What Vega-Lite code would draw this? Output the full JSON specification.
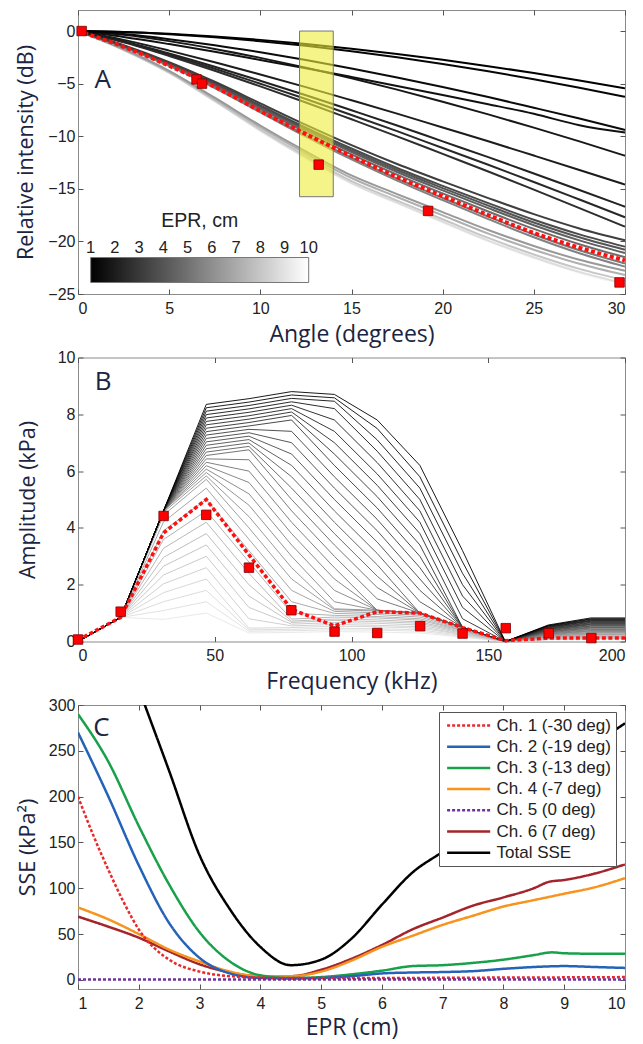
{
"$schema":"https://vega.github.io/schema/vega-lite/v6.json",
"autosize":{"type":"pad"},
"padding":{"left":15,"top":9,"right":8,"bottom":3},
"background":"white",
"spacing":63.5,
"bounds":"flush",
"datasets":{
"a":[
{"e":9.6,"x":0,"y":0},{"e":9.6,"x":2.5,"y":-1.81},{"e":9.6,"x":5,"y":-4.0},{"e":9.6,"x":7.5,"y":-6.7},{"e":9.6,"x":10,"y":-9.5},{"e":9.6,"x":12.5,"y":-12.1},{"e":9.6,"x":15,"y":-14.51},{"e":9.6,"x":17.5,"y":-16.39},{"e":9.6,"x":20,"y":-18.2},{"e":9.6,"x":22.5,"y":-20.0},{"e":9.6,"x":25,"y":-21.59},{"e":9.6,"x":27.5,"y":-22.99},{"e":9.6,"x":30,"y":-24.1},
{"e":8.8,"x":0,"y":0},{"e":8.8,"x":2.5,"y":-1.8},{"e":8.8,"x":5,"y":-3.98},{"e":8.8,"x":7.5,"y":-6.67},{"e":8.8,"x":10,"y":-9.46},{"e":8.8,"x":12.5,"y":-12.05},{"e":8.8,"x":15,"y":-14.45},{"e":8.8,"x":17.5,"y":-16.32},{"e":8.8,"x":20,"y":-18.12},{"e":8.8,"x":22.5,"y":-19.92},{"e":8.8,"x":25,"y":-21.5},{"e":8.8,"x":27.5,"y":-22.9},{"e":8.8,"x":30,"y":-24.0},
{"e":8.0,"x":0,"y":0},{"e":8.0,"x":2.5,"y":-1.78},{"e":8.0,"x":5,"y":-3.93},{"e":8.0,"x":7.5,"y":-6.59},{"e":8.0,"x":10,"y":-9.34},{"e":8.0,"x":12.5,"y":-11.9},{"e":8.0,"x":15,"y":-14.27},{"e":8.0,"x":17.5,"y":-16.12},{"e":8.0,"x":20,"y":-17.89},{"e":8.0,"x":22.5,"y":-19.67},{"e":8.0,"x":25,"y":-21.24},{"e":8.0,"x":27.5,"y":-22.61},{"e":8.0,"x":30,"y":-23.7},
{"e":7.2,"x":0,"y":0},{"e":7.2,"x":2.5,"y":-1.74},{"e":7.2,"x":5,"y":-3.85},{"e":7.2,"x":7.5,"y":-6.45},{"e":7.2,"x":10,"y":-9.14},{"e":7.2,"x":12.5,"y":-11.65},{"e":7.2,"x":15,"y":-13.97},{"e":7.2,"x":17.5,"y":-15.78},{"e":7.2,"x":20,"y":-17.52},{"e":7.2,"x":22.5,"y":-19.26},{"e":7.2,"x":25,"y":-20.79},{"e":7.2,"x":27.5,"y":-22.13},{"e":7.2,"x":30,"y":-23.2},
{"e":6.4,"x":0,"y":0},{"e":6.4,"x":2.5,"y":-1.71},{"e":6.4,"x":5,"y":-3.78},{"e":6.4,"x":7.5,"y":-6.34},{"e":6.4,"x":10,"y":-8.98},{"e":6.4,"x":12.5,"y":-11.45},{"e":6.4,"x":15,"y":-13.73},{"e":6.4,"x":17.5,"y":-15.5},{"e":6.4,"x":20,"y":-17.21},{"e":6.4,"x":22.5,"y":-18.92},{"e":6.4,"x":25,"y":-20.43},{"e":6.4,"x":27.5,"y":-21.75},{"e":6.4,"x":30,"y":-22.8},
{"e":5.6,"x":0,"y":0},{"e":5.6,"x":2.5,"y":-1.52},{"e":5.6,"x":5,"y":-3.32},{"e":5.6,"x":7.5,"y":-5.42},{"e":5.6,"x":10,"y":-7.73},{"e":5.6,"x":12.5,"y":-10.04},{"e":5.6,"x":15,"y":-12.21},{"e":5.6,"x":17.5,"y":-14.22},{"e":5.6,"x":20,"y":-16.08},{"e":5.6,"x":22.5,"y":-17.88},{"e":5.6,"x":25,"y":-19.6},{"e":5.6,"x":27.5,"y":-21.12},{"e":5.6,"x":30,"y":-22.4},
{"e":5.2,"x":0,"y":0},{"e":5.2,"x":2.5,"y":-1.5},{"e":5.2,"x":5,"y":-3.27},{"e":5.2,"x":7.5,"y":-5.35},{"e":5.2,"x":10,"y":-7.62},{"e":5.2,"x":12.5,"y":-9.9},{"e":5.2,"x":15,"y":-12.04},{"e":5.2,"x":17.5,"y":-14.03},{"e":5.2,"x":20,"y":-15.87},{"e":5.2,"x":22.5,"y":-17.64},{"e":5.2,"x":25,"y":-19.34},{"e":5.2,"x":27.5,"y":-20.84},{"e":5.2,"x":30,"y":-22.1},
{"e":4.8,"x":0,"y":0},{"e":4.8,"x":2.5,"y":-1.46},{"e":4.8,"x":5,"y":-3.18},{"e":4.8,"x":7.5,"y":-5.2},{"e":4.8,"x":10,"y":-7.42},{"e":4.8,"x":12.5,"y":-9.63},{"e":4.8,"x":15,"y":-11.72},{"e":4.8,"x":17.5,"y":-13.65},{"e":4.8,"x":20,"y":-15.44},{"e":4.8,"x":22.5,"y":-17.16},{"e":4.8,"x":25,"y":-18.81},{"e":4.8,"x":27.5,"y":-20.27},{"e":4.8,"x":30,"y":-21.5},
{"e":4.4,"x":0,"y":0},{"e":4.4,"x":2.5,"y":-1.43},{"e":4.4,"x":5,"y":-3.12},{"e":4.4,"x":7.5,"y":-5.11},{"e":4.4,"x":10,"y":-7.28},{"e":4.4,"x":12.5,"y":-9.45},{"e":4.4,"x":15,"y":-11.5},{"e":4.4,"x":17.5,"y":-13.4},{"e":4.4,"x":20,"y":-15.15},{"e":4.4,"x":22.5,"y":-16.84},{"e":4.4,"x":25,"y":-18.46},{"e":4.4,"x":27.5,"y":-19.9},{"e":4.4,"x":30,"y":-21.1},
{"e":4.0,"x":0,"y":0},{"e":4.0,"x":2.5,"y":-1.41},{"e":4.0,"x":5,"y":-3.08},{"e":4.0,"x":7.5,"y":-5.03},{"e":4.0,"x":10,"y":-7.18},{"e":4.0,"x":12.5,"y":-9.32},{"e":4.0,"x":15,"y":-11.34},{"e":4.0,"x":17.5,"y":-13.21},{"e":4.0,"x":20,"y":-14.93},{"e":4.0,"x":22.5,"y":-16.6},{"e":4.0,"x":25,"y":-18.2},{"e":4.0,"x":27.5,"y":-19.61},{"e":4.0,"x":30,"y":-20.8},
{"e":3.6,"x":0,"y":0},{"e":3.6,"x":2.5,"y":-1.39},{"e":3.6,"x":5,"y":-3.03},{"e":3.6,"x":7.5,"y":-4.96},{"e":3.6,"x":10,"y":-7.07},{"e":3.6,"x":12.5,"y":-9.18},{"e":3.6,"x":15,"y":-11.17},{"e":3.6,"x":17.5,"y":-13.02},{"e":3.6,"x":20,"y":-14.72},{"e":3.6,"x":22.5,"y":-16.36},{"e":3.6,"x":25,"y":-17.94},{"e":3.6,"x":27.5,"y":-19.33},{"e":3.6,"x":30,"y":-20.5},
{"e":3.2,"x":0,"y":0},{"e":3.2,"x":2.5,"y":-1.35},{"e":3.2,"x":5,"y":-2.95},{"e":3.2,"x":7.5,"y":-4.82},{"e":3.2,"x":10,"y":-6.87},{"e":3.2,"x":12.5,"y":-8.92},{"e":3.2,"x":15,"y":-10.85},{"e":3.2,"x":17.5,"y":-12.64},{"e":3.2,"x":20,"y":-14.29},{"e":3.2,"x":22.5,"y":-15.88},{"e":3.2,"x":25,"y":-17.41},{"e":3.2,"x":27.5,"y":-18.77},{"e":3.2,"x":30,"y":-19.9},
{"e":2.6,"x":0,"y":0},{"e":2.6,"x":2.5,"y":-1.07},{"e":2.6,"x":5,"y":-2.37},{"e":2.6,"x":7.5,"y":-3.78},{"e":2.6,"x":10,"y":-5.26},{"e":2.6,"x":12.5,"y":-6.79},{"e":2.6,"x":15,"y":-8.39},{"e":2.6,"x":17.5,"y":-10.01},{"e":2.6,"x":20,"y":-11.68},{"e":2.6,"x":22.5,"y":-13.35},{"e":2.6,"x":25,"y":-15.08},{"e":2.6,"x":27.5,"y":-16.83},{"e":2.6,"x":30,"y":-18.6},
{"e":2.4,"x":0,"y":0},{"e":2.4,"x":2.5,"y":-1.02},{"e":2.4,"x":5,"y":-2.25},{"e":2.4,"x":7.5,"y":-3.59},{"e":2.4,"x":10,"y":-5.01},{"e":2.4,"x":12.5,"y":-6.46},{"e":2.4,"x":15,"y":-7.98},{"e":2.4,"x":17.5,"y":-9.52},{"e":2.4,"x":20,"y":-11.12},{"e":2.4,"x":22.5,"y":-12.71},{"e":2.4,"x":25,"y":-14.35},{"e":2.4,"x":27.5,"y":-16.02},{"e":2.4,"x":30,"y":-17.7},
{"e":2.2,"x":0,"y":0},{"e":2.2,"x":2.5,"y":-0.96},{"e":2.2,"x":5,"y":-2.13},{"e":2.2,"x":7.5,"y":-3.39},{"e":2.2,"x":10,"y":-4.73},{"e":2.2,"x":12.5,"y":-6.1},{"e":2.2,"x":15,"y":-7.53},{"e":2.2,"x":17.5,"y":-8.98},{"e":2.2,"x":20,"y":-10.49},{"e":2.2,"x":22.5,"y":-11.99},{"e":2.2,"x":25,"y":-13.54},{"e":2.2,"x":27.5,"y":-15.11},{"e":2.2,"x":30,"y":-16.7},
{"e":2.0,"x":0,"y":0},{"e":2.0,"x":2.5,"y":-0.84},{"e":2.0,"x":5,"y":-1.86},{"e":2.0,"x":7.5,"y":-2.96},{"e":2.0,"x":10,"y":-4.13},{"e":2.0,"x":12.5,"y":-5.33},{"e":2.0,"x":15,"y":-6.58},{"e":2.0,"x":17.5,"y":-7.85},{"e":2.0,"x":20,"y":-9.17},{"e":2.0,"x":22.5,"y":-10.48},{"e":2.0,"x":25,"y":-11.84},{"e":2.0,"x":27.5,"y":-13.21},{"e":2.0,"x":30,"y":-14.6},
{"e":1.8,"x":0,"y":0},{"e":1.8,"x":2.5,"y":-0.36},{"e":1.8,"x":5,"y":-0.96},{"e":1.8,"x":7.5,"y":-1.7},{"e":1.8,"x":10,"y":-2.55},{"e":1.8,"x":12.5,"y":-3.48},{"e":1.8,"x":15,"y":-4.49},{"e":1.8,"x":17.5,"y":-5.57},{"e":1.8,"x":20,"y":-6.72},{"e":1.8,"x":22.5,"y":-7.92},{"e":1.8,"x":25,"y":-9.18},{"e":1.8,"x":27.5,"y":-10.49},{"e":1.8,"x":30,"y":-11.85},
{"e":1.6,"x":0,"y":0},{"e":1.6,"x":2.5,"y":-0.56},{"e":1.6,"x":5,"y":-1.24},{"e":1.6,"x":7.5,"y":-1.97},{"e":1.6,"x":10,"y":-2.75},{"e":1.6,"x":12.5,"y":-3.54},{"e":1.6,"x":15,"y":-4.37},{"e":1.6,"x":17.5,"y":-5.22},{"e":1.6,"x":20,"y":-6.09},{"e":1.6,"x":22.5,"y":-6.96},{"e":1.6,"x":25,"y":-7.87},{"e":1.6,"x":27.5,"y":-8.95},{"e":1.6,"x":30,"y":-9.65},
{"e":1.4,"x":0,"y":0},{"e":1.4,"x":2.5,"y":-0.29},{"e":1.4,"x":5,"y":-0.77},{"e":1.4,"x":7.5,"y":-1.35},{"e":1.4,"x":10,"y":-2.02},{"e":1.4,"x":12.5,"y":-2.76},{"e":1.4,"x":15,"y":-3.56},{"e":1.4,"x":17.5,"y":-4.42},{"e":1.4,"x":20,"y":-5.33},{"e":1.4,"x":22.5,"y":-6.28},{"e":1.4,"x":25,"y":-7.29},{"e":1.4,"x":27.5,"y":-8.32},{"e":1.4,"x":30,"y":-9.4},
{"e":1.2,"x":0,"y":0},{"e":1.2,"x":2.5,"y":-0.09},{"e":1.2,"x":5,"y":-0.3},{"e":1.2,"x":7.5,"y":-0.59},{"e":1.2,"x":10,"y":-0.97},{"e":1.2,"x":12.5,"y":-1.41},{"e":1.2,"x":15,"y":-1.92},{"e":1.2,"x":17.5,"y":-2.5},{"e":1.2,"x":20,"y":-3.14},{"e":1.2,"x":22.5,"y":-3.83},{"e":1.2,"x":25,"y":-4.58},{"e":1.2,"x":27.5,"y":-5.39},{"e":1.2,"x":30,"y":-6.25},
{"e":1.0,"x":0,"y":0},{"e":1.0,"x":2.5,"y":-0.08},{"e":1.0,"x":5,"y":-0.26},{"e":1.0,"x":7.5,"y":-0.52},{"e":1.0,"x":10,"y":-0.84},{"e":1.0,"x":12.5,"y":-1.23},{"e":1.0,"x":15,"y":-1.68},{"e":1.0,"x":17.5,"y":-2.18},{"e":1.0,"x":20,"y":-2.74},{"e":1.0,"x":22.5,"y":-3.34},{"e":1.0,"x":25,"y":-3.99},{"e":1.0,"x":27.5,"y":-4.7},{"e":1.0,"x":30,"y":-5.45}
],
"ar":[{"x":0,"y":0},{"x":2.5,"y":-1.5},{"x":5,"y":-3.3},{"x":7.5,"y":-5.3},{"x":10,"y":-7.6},{"x":12.5,"y":-9.8},{"x":15,"y":-11.9},{"x":17.5,"y":-13.9},{"x":20,"y":-15.7},{"x":22.5,"y":-17.5},{"x":25,"y":-19.2},{"x":27.5,"y":-20.6},{"x":30,"y":-21.8}],
"as":[{"x":0.2,"y":0},{"x":6.5,"y":-4.6},{"x":6.8,"y":-5.0},{"x":13.2,"y":-12.7},{"x":19.2,"y":-17.1},{"x":29.7,"y":-23.9}],
"b":[
{"d":14,"f":0,"a":0},{"d":14,"f":15.6,"a":0.85},{"d":14,"f":31.25,"a":0.78},{"d":14,"f":46.9,"a":1.0},{"d":14,"f":62.5,"a":0.3},{"d":14,"f":78.1,"a":0.32},{"d":14,"f":93.75,"a":0.35},{"d":14,"f":109.4,"a":0.33},{"d":14,"f":125,"a":0.3},{"d":14,"f":140.6,"a":0.15},{"d":14,"f":156.25,"a":0},{"d":14,"f":171.9,"a":0.07},{"d":14,"f":187.5,"a":0.1},{"d":14,"f":200,"a":0.1},
{"d":13.6,"f":0,"a":0},{"d":13.6,"f":15.6,"a":0.85},{"d":13.6,"f":31.25,"a":1.09},{"d":13.6,"f":46.9,"a":1.4},{"d":13.6,"f":62.5,"a":0.36},{"d":13.6,"f":78.1,"a":0.38},{"d":13.6,"f":93.75,"a":0.41},{"d":13.6,"f":109.4,"a":0.4},{"d":13.6,"f":125,"a":0.36},{"d":13.6,"f":140.6,"a":0.18},{"d":13.6,"f":156.25,"a":0},{"d":13.6,"f":171.9,"a":0.07},{"d":13.6,"f":187.5,"a":0.1},{"d":13.6,"f":200,"a":0.1},
{"d":13.2,"f":0,"a":0},{"d":13.2,"f":15.6,"a":0.85},{"d":13.2,"f":31.25,"a":1.4},{"d":13.2,"f":46.9,"a":1.8},{"d":13.2,"f":62.5,"a":0.41},{"d":13.2,"f":78.1,"a":0.43},{"d":13.2,"f":93.75,"a":0.47},{"d":13.2,"f":109.4,"a":0.45},{"d":13.2,"f":125,"a":0.41},{"d":13.2,"f":140.6,"a":0.21},{"d":13.2,"f":156.25,"a":0},{"d":13.2,"f":171.9,"a":0.07},{"d":13.2,"f":187.5,"a":0.1},{"d":13.2,"f":200,"a":0.1},
{"d":12.8,"f":0,"a":0},{"d":12.8,"f":15.6,"a":0.85},{"d":12.8,"f":31.25,"a":1.72},{"d":12.8,"f":46.9,"a":2.2},{"d":12.8,"f":62.5,"a":0.47},{"d":12.8,"f":78.1,"a":0.49},{"d":12.8,"f":93.75,"a":0.54},{"d":12.8,"f":109.4,"a":0.52},{"d":12.8,"f":125,"a":0.47},{"d":12.8,"f":140.6,"a":0.24},{"d":12.8,"f":156.25,"a":0},{"d":12.8,"f":171.9,"a":0.07},{"d":12.8,"f":187.5,"a":0.1},{"d":12.8,"f":200,"a":0.1},
{"d":12.4,"f":0,"a":0},{"d":12.4,"f":15.6,"a":0.85},{"d":12.4,"f":31.25,"a":2.03},{"d":12.4,"f":46.9,"a":2.6},{"d":12.4,"f":62.5,"a":0.8},{"d":12.4,"f":78.1,"a":0.55},{"d":12.4,"f":93.75,"a":0.6},{"d":12.4,"f":109.4,"a":0.57},{"d":12.4,"f":125,"a":0.52},{"d":12.4,"f":140.6,"a":0.26},{"d":12.4,"f":156.25,"a":0},{"d":12.4,"f":171.9,"a":0.07},{"d":12.4,"f":187.5,"a":0.1},{"d":12.4,"f":200,"a":0.1},
{"d":12,"f":0,"a":0},{"d":12,"f":15.6,"a":0.85},{"d":12,"f":31.25,"a":2.34},{"d":12,"f":46.9,"a":3.0},{"d":12,"f":62.5,"a":1.2},{"d":12,"f":78.1,"a":0.61},{"d":12,"f":93.75,"a":0.67},{"d":12,"f":109.4,"a":0.64},{"d":12,"f":125,"a":0.58},{"d":12,"f":140.6,"a":0.29},{"d":12,"f":156.25,"a":0},{"d":12,"f":171.9,"a":0.09},{"d":12,"f":187.5,"a":0.13},{"d":12,"f":200,"a":0.13},
{"d":11.6,"f":0,"a":0},{"d":11.6,"f":15.6,"a":0.85},{"d":11.6,"f":31.25,"a":2.65},{"d":11.6,"f":46.9,"a":3.4},{"d":11.6,"f":62.5,"a":1.6},{"d":11.6,"f":78.1,"a":0.67},{"d":11.6,"f":93.75,"a":0.74},{"d":11.6,"f":109.4,"a":0.7},{"d":11.6,"f":125,"a":0.64},{"d":11.6,"f":140.6,"a":0.32},{"d":11.6,"f":156.25,"a":0},{"d":11.6,"f":171.9,"a":0.11},{"d":11.6,"f":187.5,"a":0.15},{"d":11.6,"f":200,"a":0.15},
{"d":11.2,"f":0,"a":0},{"d":11.2,"f":15.6,"a":0.85},{"d":11.2,"f":31.25,"a":2.96},{"d":11.2,"f":46.9,"a":3.8},{"d":11.2,"f":62.5,"a":2.0},{"d":11.2,"f":78.1,"a":0.72},{"d":11.2,"f":93.75,"a":0.79},{"d":11.2,"f":109.4,"a":0.76},{"d":11.2,"f":125,"a":0.69},{"d":11.2,"f":140.6,"a":0.35},{"d":11.2,"f":156.25,"a":0},{"d":11.2,"f":171.9,"a":0.13},{"d":11.2,"f":187.5,"a":0.18},{"d":11.2,"f":200,"a":0.18},
{"d":10.8,"f":0,"a":0},{"d":10.8,"f":15.6,"a":0.85},{"d":10.8,"f":31.25,"a":3.28},{"d":10.8,"f":46.9,"a":4.2},{"d":10.8,"f":62.5,"a":2.4},{"d":10.8,"f":78.1,"a":0.79},{"d":10.8,"f":93.75,"a":0.86},{"d":10.8,"f":109.4,"a":0.83},{"d":10.8,"f":125,"a":0.75},{"d":10.8,"f":140.6,"a":0.38},{"d":10.8,"f":156.25,"a":0},{"d":10.8,"f":171.9,"a":0.14},{"d":10.8,"f":187.5,"a":0.2},{"d":10.8,"f":200,"a":0.2},
{"d":10.4,"f":0,"a":0},{"d":10.4,"f":15.6,"a":0.85},{"d":10.4,"f":31.25,"a":3.59},{"d":10.4,"f":46.9,"a":4.6},{"d":10.4,"f":62.5,"a":2.8},{"d":10.4,"f":78.1,"a":1.0},{"d":10.4,"f":93.75,"a":0.92},{"d":10.4,"f":109.4,"a":0.88},{"d":10.4,"f":125,"a":0.8},{"d":10.4,"f":140.6,"a":0.4},{"d":10.4,"f":156.25,"a":0},{"d":10.4,"f":171.9,"a":0.16},{"d":10.4,"f":187.5,"a":0.23},{"d":10.4,"f":200,"a":0.23},
{"d":10,"f":0,"a":0},{"d":10,"f":15.6,"a":0.85},{"d":10,"f":31.25,"a":3.9},{"d":10,"f":46.9,"a":5.0},{"d":10,"f":62.5,"a":3.2},{"d":10,"f":78.1,"a":1.4},{"d":10,"f":93.75,"a":0.99},{"d":10,"f":109.4,"a":0.95},{"d":10,"f":125,"a":0.86},{"d":10,"f":140.6,"a":0.43},{"d":10,"f":156.25,"a":0},{"d":10,"f":171.9,"a":0.18},{"d":10,"f":187.5,"a":0.25},{"d":10,"f":200,"a":0.25},
{"d":9.6,"f":0,"a":0},{"d":9.6,"f":15.6,"a":0.85},{"d":9.6,"f":31.25,"a":4.21},{"d":9.6,"f":46.9,"a":5.4},{"d":9.6,"f":62.5,"a":3.6},{"d":9.6,"f":78.1,"a":1.8},{"d":9.6,"f":93.75,"a":1.06},{"d":9.6,"f":109.4,"a":1.01},{"d":9.6,"f":125,"a":0.92},{"d":9.6,"f":140.6,"a":0.46},{"d":9.6,"f":156.25,"a":0},{"d":9.6,"f":171.9,"a":0.19},{"d":9.6,"f":187.5,"a":0.27},{"d":9.6,"f":200,"a":0.27},
{"d":9.2,"f":0,"a":0},{"d":9.2,"f":15.6,"a":0.85},{"d":9.2,"f":31.25,"a":4.45},{"d":9.2,"f":46.9,"a":5.71},{"d":9.2,"f":62.5,"a":4.0},{"d":9.2,"f":78.1,"a":2.2},{"d":9.2,"f":93.75,"a":1.12},{"d":9.2,"f":109.4,"a":1.07},{"d":9.2,"f":125,"a":0.97},{"d":9.2,"f":140.6,"a":0.49},{"d":9.2,"f":156.25,"a":0},{"d":9.2,"f":171.9,"a":0.21},{"d":9.2,"f":187.5,"a":0.3},{"d":9.2,"f":200,"a":0.3},
{"d":8.8,"f":0,"a":0},{"d":8.8,"f":15.6,"a":0.85},{"d":8.8,"f":31.25,"a":4.55},{"d":8.8,"f":46.9,"a":5.83},{"d":8.8,"f":62.5,"a":4.4},{"d":8.8,"f":78.1,"a":2.6},{"d":8.8,"f":93.75,"a":1.15},{"d":8.8,"f":109.4,"a":1.1},{"d":8.8,"f":125,"a":1.0},{"d":8.8,"f":140.6,"a":0.5},{"d":8.8,"f":156.25,"a":0},{"d":8.8,"f":171.9,"a":0.22},{"d":8.8,"f":187.5,"a":0.32},{"d":8.8,"f":200,"a":0.32},
{"d":8.4,"f":0,"a":0},{"d":8.4,"f":15.6,"a":0.85},{"d":8.4,"f":31.25,"a":4.6},{"d":8.4,"f":46.9,"a":5.95},{"d":8.4,"f":62.5,"a":4.8},{"d":8.4,"f":78.1,"a":3.0},{"d":8.4,"f":93.75,"a":1.4},{"d":8.4,"f":109.4,"a":1.1},{"d":8.4,"f":125,"a":1.0},{"d":8.4,"f":140.6,"a":0.5},{"d":8.4,"f":156.25,"a":0},{"d":8.4,"f":171.9,"a":0.24},{"d":8.4,"f":187.5,"a":0.35},{"d":8.4,"f":200,"a":0.35},
{"d":8,"f":0,"a":0},{"d":8,"f":15.6,"a":0.85},{"d":8,"f":31.25,"a":4.6},{"d":8,"f":46.9,"a":6.07},{"d":8,"f":62.5,"a":5.2},{"d":8,"f":78.1,"a":3.4},{"d":8,"f":93.75,"a":1.8},{"d":8,"f":109.4,"a":1.1},{"d":8,"f":125,"a":1.0},{"d":8,"f":140.6,"a":0.5},{"d":8,"f":156.25,"a":0},{"d":8,"f":171.9,"a":0.26},{"d":8,"f":187.5,"a":0.37},{"d":8,"f":200,"a":0.37},
{"d":7.6,"f":0,"a":0},{"d":7.6,"f":15.6,"a":0.85},{"d":7.6,"f":31.25,"a":4.6},{"d":7.6,"f":46.9,"a":6.19},{"d":7.6,"f":62.5,"a":5.6},{"d":7.6,"f":78.1,"a":3.8},{"d":7.6,"f":93.75,"a":2.2},{"d":7.6,"f":109.4,"a":1.1},{"d":7.6,"f":125,"a":1.0},{"d":7.6,"f":140.6,"a":0.5},{"d":7.6,"f":156.25,"a":0},{"d":7.6,"f":171.9,"a":0.27},{"d":7.6,"f":187.5,"a":0.39},{"d":7.6,"f":200,"a":0.39},
{"d":7.2,"f":0,"a":0},{"d":7.2,"f":15.6,"a":0.85},{"d":7.2,"f":31.25,"a":4.6},{"d":7.2,"f":46.9,"a":6.31},{"d":7.2,"f":62.5,"a":6.0},{"d":7.2,"f":78.1,"a":4.2},{"d":7.2,"f":93.75,"a":2.6},{"d":7.2,"f":109.4,"a":1.1},{"d":7.2,"f":125,"a":1.0},{"d":7.2,"f":140.6,"a":0.5},{"d":7.2,"f":156.25,"a":0},{"d":7.2,"f":171.9,"a":0.29},{"d":7.2,"f":187.5,"a":0.42},{"d":7.2,"f":200,"a":0.42},
{"d":6.8,"f":0,"a":0},{"d":6.8,"f":15.6,"a":0.85},{"d":6.8,"f":31.25,"a":4.6},{"d":6.8,"f":46.9,"a":6.43},{"d":6.8,"f":62.5,"a":6.4},{"d":6.8,"f":78.1,"a":4.6},{"d":6.8,"f":93.75,"a":3.0},{"d":6.8,"f":109.4,"a":1.5},{"d":6.8,"f":125,"a":1.0},{"d":6.8,"f":140.6,"a":0.5},{"d":6.8,"f":156.25,"a":0},{"d":6.8,"f":171.9,"a":0.31},{"d":6.8,"f":187.5,"a":0.44},{"d":6.8,"f":200,"a":0.44},
{"d":6.4,"f":0,"a":0},{"d":6.4,"f":15.6,"a":0.85},{"d":6.4,"f":31.25,"a":4.6},{"d":6.4,"f":46.9,"a":6.55},{"d":6.4,"f":62.5,"a":6.75},{"d":6.4,"f":78.1,"a":5.0},{"d":6.4,"f":93.75,"a":3.4},{"d":6.4,"f":109.4,"a":1.9},{"d":6.4,"f":125,"a":1.0},{"d":6.4,"f":140.6,"a":0.5},{"d":6.4,"f":156.25,"a":0},{"d":6.4,"f":171.9,"a":0.33},{"d":6.4,"f":187.5,"a":0.47},{"d":6.4,"f":200,"a":0.47},
{"d":6,"f":0,"a":0},{"d":6,"f":15.6,"a":0.85},{"d":6,"f":31.25,"a":4.6},{"d":6,"f":46.9,"a":6.67},{"d":6,"f":62.5,"a":6.87},{"d":6,"f":78.1,"a":5.4},{"d":6,"f":93.75,"a":3.8},{"d":6,"f":109.4,"a":2.3},{"d":6,"f":125,"a":1.0},{"d":6,"f":140.6,"a":0.5},{"d":6,"f":156.25,"a":0},{"d":6,"f":171.9,"a":0.34},{"d":6,"f":187.5,"a":0.49},{"d":6,"f":200,"a":0.49},
{"d":5.6,"f":0,"a":0},{"d":5.6,"f":15.6,"a":0.85},{"d":5.6,"f":31.25,"a":4.6},{"d":5.6,"f":46.9,"a":6.79},{"d":5.6,"f":62.5,"a":6.99},{"d":5.6,"f":78.1,"a":5.8},{"d":5.6,"f":93.75,"a":4.2},{"d":5.6,"f":109.4,"a":2.7},{"d":5.6,"f":125,"a":1.0},{"d":5.6,"f":140.6,"a":0.5},{"d":5.6,"f":156.25,"a":0},{"d":5.6,"f":171.9,"a":0.36},{"d":5.6,"f":187.5,"a":0.51},{"d":5.6,"f":200,"a":0.51},
{"d":5.2,"f":0,"a":0},{"d":5.2,"f":15.6,"a":0.85},{"d":5.2,"f":31.25,"a":4.6},{"d":5.2,"f":46.9,"a":6.91},{"d":5.2,"f":62.5,"a":7.11},{"d":5.2,"f":78.1,"a":6.2},{"d":5.2,"f":93.75,"a":4.6},{"d":5.2,"f":109.4,"a":3.1},{"d":5.2,"f":125,"a":1.4},{"d":5.2,"f":140.6,"a":0.5},{"d":5.2,"f":156.25,"a":0},{"d":5.2,"f":171.9,"a":0.38},{"d":5.2,"f":187.5,"a":0.54},{"d":5.2,"f":200,"a":0.54},
{"d":4.8,"f":0,"a":0},{"d":4.8,"f":15.6,"a":0.85},{"d":4.8,"f":31.25,"a":4.6},{"d":4.8,"f":46.9,"a":7.03},{"d":4.8,"f":62.5,"a":7.23},{"d":4.8,"f":78.1,"a":6.6},{"d":4.8,"f":93.75,"a":5.0},{"d":4.8,"f":109.4,"a":3.5},{"d":4.8,"f":125,"a":1.8},{"d":4.8,"f":140.6,"a":0.5},{"d":4.8,"f":156.25,"a":0},{"d":4.8,"f":171.9,"a":0.39},{"d":4.8,"f":187.5,"a":0.56},{"d":4.8,"f":200,"a":0.56},
{"d":4.4,"f":0,"a":0},{"d":4.4,"f":15.6,"a":0.85},{"d":4.4,"f":31.25,"a":4.6},{"d":4.4,"f":46.9,"a":7.15},{"d":4.4,"f":62.5,"a":7.35},{"d":4.4,"f":78.1,"a":7.0},{"d":4.4,"f":93.75,"a":5.4},{"d":4.4,"f":109.4,"a":3.9},{"d":4.4,"f":125,"a":2.2},{"d":4.4,"f":140.6,"a":0.5},{"d":4.4,"f":156.25,"a":0},{"d":4.4,"f":171.9,"a":0.41},{"d":4.4,"f":187.5,"a":0.59},{"d":4.4,"f":200,"a":0.59},
{"d":4,"f":0,"a":0},{"d":4,"f":15.6,"a":0.85},{"d":4,"f":31.25,"a":4.6},{"d":4,"f":46.9,"a":7.27},{"d":4,"f":62.5,"a":7.47},{"d":4,"f":78.1,"a":7.4},{"d":4,"f":93.75,"a":5.8},{"d":4,"f":109.4,"a":4.3},{"d":4,"f":125,"a":2.6},{"d":4,"f":140.6,"a":0.5},{"d":4,"f":156.25,"a":0},{"d":4,"f":171.9,"a":0.43},{"d":4,"f":187.5,"a":0.61},{"d":4,"f":200,"a":0.61},
{"d":3.6,"f":0,"a":0},{"d":3.6,"f":15.6,"a":0.85},{"d":3.6,"f":31.25,"a":4.6},{"d":3.6,"f":46.9,"a":7.39},{"d":3.6,"f":62.5,"a":7.59},{"d":3.6,"f":78.1,"a":7.8},{"d":3.6,"f":93.75,"a":6.2},{"d":3.6,"f":109.4,"a":4.7},{"d":3.6,"f":125,"a":3.0},{"d":3.6,"f":140.6,"a":0.5},{"d":3.6,"f":156.25,"a":0},{"d":3.6,"f":171.9,"a":0.44},{"d":3.6,"f":187.5,"a":0.63},{"d":3.6,"f":200,"a":0.63},
{"d":3.2,"f":0,"a":0},{"d":3.2,"f":15.6,"a":0.85},{"d":3.2,"f":31.25,"a":4.6},{"d":3.2,"f":46.9,"a":7.51},{"d":3.2,"f":62.5,"a":7.71},{"d":3.2,"f":78.1,"a":7.96},{"d":3.2,"f":93.75,"a":6.6},{"d":3.2,"f":109.4,"a":5.1},{"d":3.2,"f":125,"a":3.4},{"d":3.2,"f":140.6,"a":0.5},{"d":3.2,"f":156.25,"a":0},{"d":3.2,"f":171.9,"a":0.46},{"d":3.2,"f":187.5,"a":0.66},{"d":3.2,"f":200,"a":0.66},
{"d":2.8,"f":0,"a":0},{"d":2.8,"f":15.6,"a":0.85},{"d":2.8,"f":31.25,"a":4.6},{"d":2.8,"f":46.9,"a":7.63},{"d":2.8,"f":62.5,"a":7.83},{"d":2.8,"f":78.1,"a":8.08},{"d":2.8,"f":93.75,"a":7.0},{"d":2.8,"f":109.4,"a":5.5},{"d":2.8,"f":125,"a":3.8},{"d":2.8,"f":140.6,"a":0.8},{"d":2.8,"f":156.25,"a":0},{"d":2.8,"f":171.9,"a":0.48},{"d":2.8,"f":187.5,"a":0.68},{"d":2.8,"f":200,"a":0.68},
{"d":2.4,"f":0,"a":0},{"d":2.4,"f":15.6,"a":0.85},{"d":2.4,"f":31.25,"a":4.6},{"d":2.4,"f":46.9,"a":7.75},{"d":2.4,"f":62.5,"a":7.95},{"d":2.4,"f":78.1,"a":8.2},{"d":2.4,"f":93.75,"a":7.4},{"d":2.4,"f":109.4,"a":5.9},{"d":2.4,"f":125,"a":4.2},{"d":2.4,"f":140.6,"a":1.2},{"d":2.4,"f":156.25,"a":0},{"d":2.4,"f":171.9,"a":0.5},{"d":2.4,"f":187.5,"a":0.71},{"d":2.4,"f":200,"a":0.71},
{"d":2,"f":0,"a":0},{"d":2,"f":15.6,"a":0.85},{"d":2,"f":31.25,"a":4.6},{"d":2,"f":46.9,"a":7.87},{"d":2,"f":62.5,"a":8.07},{"d":2,"f":78.1,"a":8.32},{"d":2,"f":93.75,"a":7.8},{"d":2,"f":109.4,"a":6.3},{"d":2,"f":125,"a":4.6},{"d":2,"f":140.6,"a":1.6},{"d":2,"f":156.25,"a":0},{"d":2,"f":171.9,"a":0.51},{"d":2,"f":187.5,"a":0.73},{"d":2,"f":200,"a":0.73},
{"d":1.6,"f":0,"a":0},{"d":1.6,"f":15.6,"a":0.85},{"d":1.6,"f":31.25,"a":4.6},{"d":1.6,"f":46.9,"a":7.99},{"d":1.6,"f":62.5,"a":8.19},{"d":1.6,"f":78.1,"a":8.44},{"d":1.6,"f":93.75,"a":8.2},{"d":1.6,"f":109.4,"a":6.7},{"d":1.6,"f":125,"a":5.0},{"d":1.6,"f":140.6,"a":2.0},{"d":1.6,"f":156.25,"a":0},{"d":1.6,"f":171.9,"a":0.53},{"d":1.6,"f":187.5,"a":0.75},{"d":1.6,"f":200,"a":0.75},
{"d":1.2,"f":0,"a":0},{"d":1.2,"f":15.6,"a":0.85},{"d":1.2,"f":31.25,"a":4.6},{"d":1.2,"f":46.9,"a":8.11},{"d":1.2,"f":62.5,"a":8.31},{"d":1.2,"f":78.1,"a":8.56},{"d":1.2,"f":93.75,"a":8.46},{"d":1.2,"f":109.4,"a":7.1},{"d":1.2,"f":125,"a":5.4},{"d":1.2,"f":140.6,"a":2.4},{"d":1.2,"f":156.25,"a":0},{"d":1.2,"f":171.9,"a":0.55},{"d":1.2,"f":187.5,"a":0.78},{"d":1.2,"f":200,"a":0.78},
{"d":0.8,"f":0,"a":0},{"d":0.8,"f":15.6,"a":0.85},{"d":0.8,"f":31.25,"a":4.6},{"d":0.8,"f":46.9,"a":8.23},{"d":0.8,"f":62.5,"a":8.43},{"d":0.8,"f":78.1,"a":8.68},{"d":0.8,"f":93.75,"a":8.58},{"d":0.8,"f":109.4,"a":7.5},{"d":0.8,"f":125,"a":5.8},{"d":0.8,"f":140.6,"a":2.8},{"d":0.8,"f":156.25,"a":0},{"d":0.8,"f":171.9,"a":0.56},{"d":0.8,"f":187.5,"a":0.8},{"d":0.8,"f":200,"a":0.8},
{"d":0.4,"f":0,"a":0},{"d":0.4,"f":15.6,"a":0.85},{"d":0.4,"f":31.25,"a":4.6},{"d":0.4,"f":46.9,"a":8.35},{"d":0.4,"f":62.5,"a":8.55},{"d":0.4,"f":78.1,"a":8.8},{"d":0.4,"f":93.75,"a":8.7},{"d":0.4,"f":109.4,"a":7.8},{"d":0.4,"f":125,"a":6.2},{"d":0.4,"f":140.6,"a":3.2},{"d":0.4,"f":156.25,"a":0},{"d":0.4,"f":171.9,"a":0.58},{"d":0.4,"f":187.5,"a":0.83},{"d":0.4,"f":200,"a":0.83}
],
"br":[{"f":0,"a":0.05},{"f":15.6,"a":0.85},{"f":31.25,"a":3.82},{"f":46.9,"a":5.0},{"f":62.5,"a":3.05},{"f":78.1,"a":1.13},{"f":93.75,"a":0.55},{"f":109.4,"a":1.05},{"f":125,"a":1.0},{"f":140.6,"a":0.49},{"f":156.25,"a":0.03},{"f":171.9,"a":0.12},{"f":187.5,"a":0.12},{"f":200,"a":0.12}],
"bs":[{"f":0,"a":0.07},{"f":15.6,"a":1.05},{"f":31.3,"a":4.42},{"f":46.9,"a":4.46},{"f":62.5,"a":2.6},{"f":78,"a":1.1},{"f":93.8,"a":0.35},{"f":109.4,"a":0.3},{"f":125.1,"a":0.54},{"f":140.6,"a":0.28},{"f":156.4,"a":0.47},{"f":172.1,"a":0.29},{"f":187.7,"a":0.12}],
"c":[
{"s":"Total SSE","x":1,"y":560},{"s":"Total SSE","x":1.5,"y":410},{"s":"Total SSE","x":2,"y":318},{"s":"Total SSE","x":2.5,"y":228},{"s":"Total SSE","x":3,"y":136},{"s":"Total SSE","x":3.5,"y":77},{"s":"Total SSE","x":4,"y":36},{"s":"Total SSE","x":4.5,"y":16},{"s":"Total SSE","x":5,"y":22},{"s":"Total SSE","x":5.5,"y":45},{"s":"Total SSE","x":6,"y":82},{"s":"Total SSE","x":6.5,"y":117},{"s":"Total SSE","x":7,"y":140},{"s":"Total SSE","x":7.5,"y":165},{"s":"Total SSE","x":8,"y":190},{"s":"Total SSE","x":8.5,"y":214},{"s":"Total SSE","x":9,"y":237},{"s":"Total SSE","x":9.5,"y":258},{"s":"Total SSE","x":10,"y":280},
{"s":"Ch. 6 (7 deg)","x":1,"y":69},{"s":"Ch. 6 (7 deg)","x":1.5,"y":58},{"s":"Ch. 6 (7 deg)","x":2,"y":46},{"s":"Ch. 6 (7 deg)","x":2.5,"y":31},{"s":"Ch. 6 (7 deg)","x":3,"y":17},{"s":"Ch. 6 (7 deg)","x":3.5,"y":8},{"s":"Ch. 6 (7 deg)","x":4,"y":4},{"s":"Ch. 6 (7 deg)","x":4.5,"y":4},{"s":"Ch. 6 (7 deg)","x":5,"y":11},{"s":"Ch. 6 (7 deg)","x":5.5,"y":23},{"s":"Ch. 6 (7 deg)","x":6,"y":38},{"s":"Ch. 6 (7 deg)","x":6.5,"y":55},{"s":"Ch. 6 (7 deg)","x":7,"y":68},{"s":"Ch. 6 (7 deg)","x":7.5,"y":81},{"s":"Ch. 6 (7 deg)","x":8,"y":90},{"s":"Ch. 6 (7 deg)","x":8.5,"y":100},{"s":"Ch. 6 (7 deg)","x":8.75,"y":107},{"s":"Ch. 6 (7 deg)","x":9,"y":109},{"s":"Ch. 6 (7 deg)","x":9.5,"y":116},{"s":"Ch. 6 (7 deg)","x":10,"y":126},
{"s":"Ch. 4 (-7 deg)","x":1,"y":79},{"s":"Ch. 4 (-7 deg)","x":1.5,"y":66},{"s":"Ch. 4 (-7 deg)","x":2,"y":50},{"s":"Ch. 4 (-7 deg)","x":2.5,"y":33},{"s":"Ch. 4 (-7 deg)","x":3,"y":20},{"s":"Ch. 4 (-7 deg)","x":3.5,"y":9},{"s":"Ch. 4 (-7 deg)","x":4,"y":4},{"s":"Ch. 4 (-7 deg)","x":4.5,"y":4},{"s":"Ch. 4 (-7 deg)","x":5,"y":9},{"s":"Ch. 4 (-7 deg)","x":5.5,"y":21},{"s":"Ch. 4 (-7 deg)","x":6,"y":36},{"s":"Ch. 4 (-7 deg)","x":6.5,"y":48},{"s":"Ch. 4 (-7 deg)","x":7,"y":60},{"s":"Ch. 4 (-7 deg)","x":7.5,"y":70},{"s":"Ch. 4 (-7 deg)","x":8,"y":80},{"s":"Ch. 4 (-7 deg)","x":8.5,"y":87},{"s":"Ch. 4 (-7 deg)","x":9,"y":94},{"s":"Ch. 4 (-7 deg)","x":9.5,"y":101},{"s":"Ch. 4 (-7 deg)","x":10,"y":111},
{"s":"Ch. 3 (-13 deg)","x":1,"y":290},{"s":"Ch. 3 (-13 deg)","x":1.5,"y":238},{"s":"Ch. 3 (-13 deg)","x":2,"y":168},{"s":"Ch. 3 (-13 deg)","x":2.5,"y":104},{"s":"Ch. 3 (-13 deg)","x":3,"y":52},{"s":"Ch. 3 (-13 deg)","x":3.5,"y":20},{"s":"Ch. 3 (-13 deg)","x":4,"y":5},{"s":"Ch. 3 (-13 deg)","x":4.5,"y":2},{"s":"Ch. 3 (-13 deg)","x":5,"y":3},{"s":"Ch. 3 (-13 deg)","x":5.5,"y":6},{"s":"Ch. 3 (-13 deg)","x":6,"y":10},{"s":"Ch. 3 (-13 deg)","x":6.5,"y":15},{"s":"Ch. 3 (-13 deg)","x":7,"y":16},{"s":"Ch. 3 (-13 deg)","x":7.5,"y":18.5},{"s":"Ch. 3 (-13 deg)","x":8,"y":22},{"s":"Ch. 3 (-13 deg)","x":8.5,"y":27},{"s":"Ch. 3 (-13 deg)","x":8.8,"y":30},{"s":"Ch. 3 (-13 deg)","x":9,"y":29},{"s":"Ch. 3 (-13 deg)","x":9.5,"y":28.5},{"s":"Ch. 3 (-13 deg)","x":10,"y":28.5},
{"s":"Ch. 2 (-19 deg)","x":1,"y":270},{"s":"Ch. 2 (-19 deg)","x":1.5,"y":200},{"s":"Ch. 2 (-19 deg)","x":2,"y":125},{"s":"Ch. 2 (-19 deg)","x":2.5,"y":62},{"s":"Ch. 2 (-19 deg)","x":3,"y":24},{"s":"Ch. 2 (-19 deg)","x":3.5,"y":7},{"s":"Ch. 2 (-19 deg)","x":4,"y":2},{"s":"Ch. 2 (-19 deg)","x":4.5,"y":1.5},{"s":"Ch. 2 (-19 deg)","x":5,"y":2},{"s":"Ch. 2 (-19 deg)","x":5.5,"y":4},{"s":"Ch. 2 (-19 deg)","x":6,"y":7},{"s":"Ch. 2 (-19 deg)","x":6.5,"y":8},{"s":"Ch. 2 (-19 deg)","x":7,"y":8.5},{"s":"Ch. 2 (-19 deg)","x":7.5,"y":9.5},{"s":"Ch. 2 (-19 deg)","x":8,"y":12},{"s":"Ch. 2 (-19 deg)","x":8.5,"y":14},{"s":"Ch. 2 (-19 deg)","x":9,"y":15},{"s":"Ch. 2 (-19 deg)","x":9.5,"y":14},{"s":"Ch. 2 (-19 deg)","x":10,"y":13},
{"s":"Ch. 1 (-30 deg)","x":1,"y":200},{"s":"Ch. 1 (-30 deg)","x":1.25,"y":158},{"s":"Ch. 1 (-30 deg)","x":1.5,"y":120},{"s":"Ch. 1 (-30 deg)","x":1.75,"y":85},{"s":"Ch. 1 (-30 deg)","x":2,"y":55},{"s":"Ch. 1 (-30 deg)","x":2.5,"y":22},{"s":"Ch. 1 (-30 deg)","x":3,"y":9},{"s":"Ch. 1 (-30 deg)","x":3.5,"y":4},{"s":"Ch. 1 (-30 deg)","x":4,"y":2.5},{"s":"Ch. 1 (-30 deg)","x":4.5,"y":2},{"s":"Ch. 1 (-30 deg)","x":5,"y":2},{"s":"Ch. 1 (-30 deg)","x":6,"y":2},{"s":"Ch. 1 (-30 deg)","x":7,"y":2.2},{"s":"Ch. 1 (-30 deg)","x":8,"y":2.5},{"s":"Ch. 1 (-30 deg)","x":9,"y":2.7},{"s":"Ch. 1 (-30 deg)","x":10,"y":3},
{"s":"Ch. 5 (0 deg)","x":1,"y":0.5},{"s":"Ch. 5 (0 deg)","x":5.5,"y":0.5},{"s":"Ch. 5 (0 deg)","x":10,"y":0.5}
]
},
"vconcat":[
{
"width":547,"height":284,
"layer":[
{"data":{"name":"a"},"mark":{"type":"line","interpolate":"monotone","strokeWidth":2},
"encoding":{
"x":{"field":"x","type":"quantitative","scale":{"domain":[0,30],"nice":false},"axis":{"values":[0,5,10,15,20,25,30],"title":"Angle (degrees)"}},
"y":{"field":"y","type":"quantitative","scale":{"domain":[-25,2],"nice":false,"zero":false},"axis":{"values":[-25,-20,-15,-10,-5,0],"title":"Relative intensity (dB)","titlePadding":10}},
"detail":{"field":"e","type":"nominal"},
"color":{"field":"e","type":"quantitative","scale":{"domain":[1,10],"range":["#000000","#ffffff"],"interpolate":"rgb"},
"legend":{"title":"EPR, cm","orient":"none","legendX":12.7,"legendY":202,"direction":"horizontal","gradientLength":218,"gradientThickness":25,"values":[1,2,3,4,5,6,7,8,9,10],"labelOverlap":false,"labelAlign":"center","labelOffset":-43,"labelFontSize":16.5,"labelFont":"Liberation Sans","labelColor":"#222222","titleFont":"Liberation Sans","titleFontSize":19.5,"titleFontWeight":"normal","titleColor":"#222222","titleAnchor":"middle","titlePadding":26,"gradientStrokeColor":"#777777","gradientStrokeWidth":1,"padding":0,
"encode":{"labels":{"update":{"align":{"value":"center"}}}}}}
}},
{"data":{"values":[{"x1":12.15,"x2":14.0,"y1":0,"y2":-15.75}]},"mark":{"type":"rect","fill":"#ecec3a","fillOpacity":0.6,"stroke":"#777777","strokeWidth":1},
"encoding":{"x":{"field":"x1","type":"quantitative","axis":null},"x2":{"field":"x2"},"y":{"field":"y1","type":"quantitative","axis":null},"y2":{"field":"y2"}}},
{"data":{"name":"ar"},"mark":{"type":"line","interpolate":"monotone","color":"#ff1010","strokeWidth":4,"strokeDash":[4,2.5]},
"encoding":{"x":{"field":"x","type":"quantitative","axis":null},"y":{"field":"y","type":"quantitative","axis":null}}},
{"data":{"name":"as"},"mark":{"type":"square","size":90,"color":"#ff0000","opacity":1,"stroke":"#7a0000","strokeWidth":0.8,"filled":true},
"encoding":{"x":{"field":"x","type":"quantitative","axis":null},"y":{"field":"y","type":"quantitative","axis":null}}},
{"data":{"values":[{"x":0.9,"y":-4.66,"t":"A"}]},"mark":{"type":"text","align":"left","baseline":"middle","font":"Open Sans","fontSize":26,"color":"#1b2440"},
"encoding":{"x":{"field":"x","type":"quantitative","axis":{"orient":"top","labels":false,"title":null,"values":[0,5,10,15,20,25,30]}},"y":{"field":"y","type":"quantitative","axis":{"orient":"right","labels":false,"title":null,"values":[-25,-20,-15,-10,-5,0]}},"text":{"field":"t"}}}
],
"resolve":{"axis":{"x":"independent","y":"independent"}}
},
{
"width":547,"height":284,
"layer":[
{"data":{"name":"b"},"mark":{"type":"line","strokeWidth":0.9},
"encoding":{
"x":{"field":"f","type":"quantitative","scale":{"domain":[0,200],"nice":false},"axis":{"values":[0,50,100,150,200],"title":"Frequency (kHz)"}},
"y":{"field":"a","type":"quantitative","scale":{"domain":[0,10],"nice":false},"axis":{"values":[0,2,4,6,8,10],"title":"Amplitude (kPa)","titlePadding":18}},
"detail":{"field":"d","type":"nominal"},
"color":{"field":"d","type":"quantitative","scale":{"domain":[0.4,14],"range":["#000000","#e6e6e6"],"interpolate":"rgb"},"legend":null}
}},
{"data":{"name":"br"},"mark":{"type":"line","color":"#ff1010","strokeWidth":3.5,"strokeDash":[4,2.5]},
"encoding":{"x":{"field":"f","type":"quantitative","axis":null},"y":{"field":"a","type":"quantitative","axis":null}}},
{"data":{"name":"bs"},"mark":{"type":"square","size":90,"color":"#ff0000","opacity":1,"stroke":"#7a0000","strokeWidth":0.8,"filled":true},
"encoding":{"x":{"field":"f","type":"quantitative","axis":null},"y":{"field":"a","type":"quantitative","axis":null}}},
{"data":{"values":[{"f":6.1,"a":9.12,"t":"B"}]},"mark":{"type":"text","align":"left","baseline":"middle","font":"Open Sans","fontSize":26,"color":"#1b2440"},
"encoding":{"x":{"field":"f","type":"quantitative","axis":{"orient":"top","labels":false,"title":null,"values":[0,50,100,150,200]}},"y":{"field":"a","type":"quantitative","axis":{"orient":"right","labels":false,"title":null,"values":[0,2,4,6,8,10]}},"text":{"field":"t"}}}
],
"resolve":{"axis":{"x":"independent","y":"independent"}}
},
{
"width":547,"height":284,
"layer":[
{"data":{"name":"c"},"mark":{"type":"line","interpolate":"monotone","clip":true},
"encoding":{
"x":{"field":"x","type":"quantitative","scale":{"domain":[1,10],"nice":false,"zero":false},"axis":{"values":[1,2,3,4,5,6,7,8,9,10],"title":"EPR (cm)","titlePadding":5}},
"y":{"field":"y","type":"quantitative","scale":{"domain":[-10,300],"nice":false,"zero":false},"axis":{"values":[0,50,100,150,200,250,300],"title":"SSE (kPa²)","titlePadding":9}},
"color":{"field":"s","type":"nominal","scale":{"domain":["Ch. 1 (-30 deg)","Ch. 2 (-19 deg)","Ch. 3 (-13 deg)","Ch. 4 (-7 deg)","Ch. 5 (0 deg)","Ch. 6 (7 deg)","Total SSE"],"range":["#e8282b","#2463b8","#18a04a","#f7931e","#7030a0","#a3242a","#000000"]},
"legend":{"title":null,"orient":"none","legendX":361,"legendY":7,"padding":5,"fillColor":"white","strokeColor":"#555555","symbolType":"M-1,0H7","symbolSize":116,"labelOffset":35.5,"labelFontSize":17,"labelFont":"Liberation Sans","labelColor":"#222222","rowPadding":3.2,"labelLimit":300}},
"strokeDash":{"field":"s","type":"nominal","scale":{"domain":["Ch. 1 (-30 deg)","Ch. 2 (-19 deg)","Ch. 3 (-13 deg)","Ch. 4 (-7 deg)","Ch. 5 (0 deg)","Ch. 6 (7 deg)","Total SSE"],"range":[[3,2],[1,0],[1,0],[1,0],[3,2],[1,0],[1,0]]}},
"strokeWidth":{"field":"s","type":"nominal","scale":{"domain":["Ch. 1 (-30 deg)","Ch. 2 (-19 deg)","Ch. 3 (-13 deg)","Ch. 4 (-7 deg)","Ch. 5 (0 deg)","Ch. 6 (7 deg)","Total SSE"],"range":[2.5,2.5,2.5,2.5,2.5,2.5,4.5]}}
}},
{"data":{"values":[{"x":1.25,"y":275,"t":"C"}]},"mark":{"type":"text","align":"left","baseline":"middle","font":"Open Sans","fontSize":26,"color":"#1b2440"},
"encoding":{"x":{"field":"x","type":"quantitative","axis":{"orient":"top","labels":false,"title":null,"values":[1,2,3,4,5,6,7,8,9,10]}},"y":{"field":"y","type":"quantitative","axis":{"orient":"right","labels":false,"title":null,"values":[0,50,100,150,200,250,300]}},"text":{"field":"t"}}}
],
"resolve":{"axis":{"x":"independent","y":"independent"}}
}
],
"resolve":{"scale":{"color":"independent","strokeDash":"independent","strokeWidth":"independent"},"legend":{"color":"independent","strokeDash":"independent","strokeWidth":"independent"}},
"config":{
"view":{"stroke":"#8a8a8a","strokeWidth":1},
"axis":{"grid":false,"domain":false,"labelFont":"Liberation Sans","labelFontSize":16,"labelColor":"#222222","tickColor":"#555555","tickSize":-5,"tickWidth":1,"titleFont":"Open Sans","titleColor":"#1b2440","titleFontWeight":"normal"},
"axisX":{"labelPadding":11,"titlePadding":7,"titleFontSize":23},
"axisY":{"labelPadding":8,"titlePadding":10,"titleFontSize":21.5}
}
}
